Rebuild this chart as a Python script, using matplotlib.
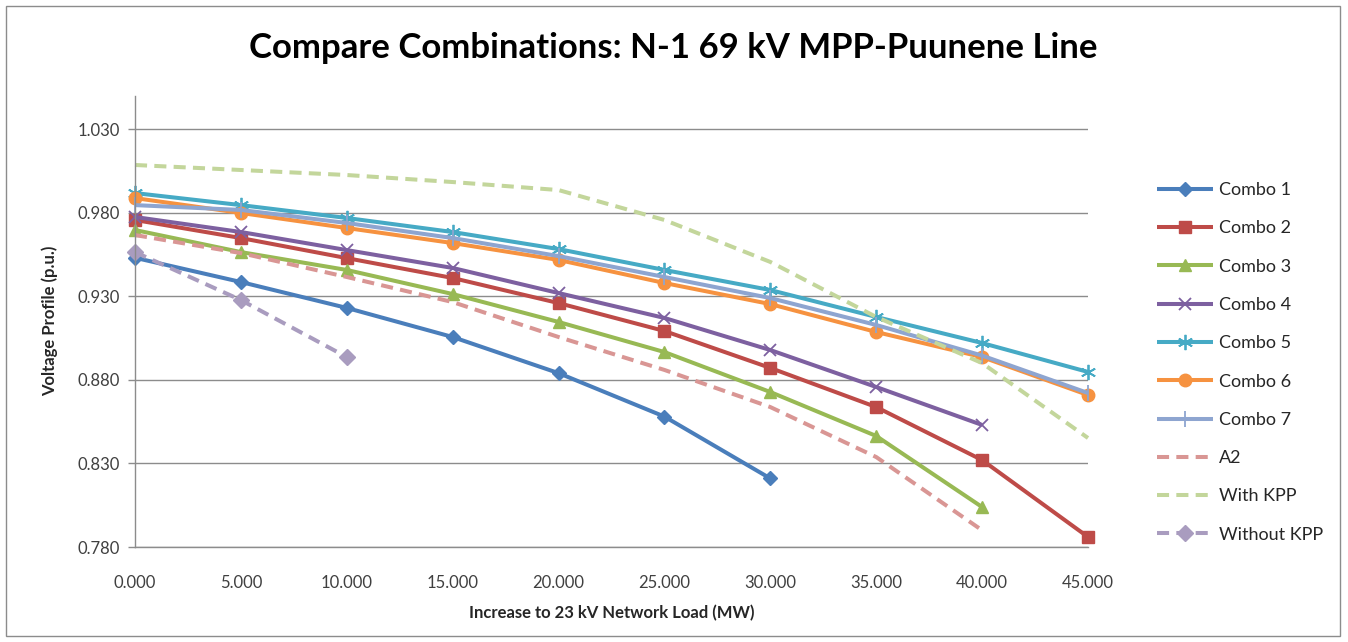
import matplotlib
matplotlib.use("Agg")
import matplotlib.pyplot as plt
from matplotlib.patches import Rectangle
from matplotlib.ticker import FormatStrFormatter, MultipleLocator

plt.rcParams['font.family'] = ['Lato', 'DejaVu Sans']

load_mw = [0, 5, 10, 15, 20, 25, 30, 35, 40, 45]

combo1 = [0.953, 0.9385, 0.923, 0.9056, 0.884, 0.858, 0.821]
combo2 = [0.9756, 0.9648, 0.9528, 0.9409, 0.9259, 0.9092, 0.8871, 0.8637, 0.832, 0.786]
combo3 = [0.9696, 0.9564, 0.9457, 0.9313, 0.9146, 0.8966, 0.8727, 0.8464, 0.8039]
combo4 = [0.9774, 0.9684, 0.9576, 0.9469, 0.9319, 0.917, 0.8978, 0.8757, 0.853]
combo5 = [0.9917, 0.9845, 0.9768, 0.9684, 0.9582, 0.9457, 0.9337, 0.9176, 0.902, 0.8847]
combo6 = [0.9887, 0.9798, 0.9708, 0.9618, 0.9517, 0.9379, 0.9253, 0.9086, 0.8936, 0.8709]
combo7 = [0.9845, 0.9816, 0.9738, 0.9648, 0.954, 0.9415, 0.9289, 0.9128, 0.8945, 0.8721]
a2 = [0.9666, 0.9558, 0.9415, 0.9265, 0.9056, 0.8859, 0.8637, 0.8338, 0.790]
with_kpp = [1.0085, 1.0055, 1.0025, 0.9983, 0.9935, 0.9756, 0.9505, 0.9176, 0.890, 0.8452]
without_kpp = [0.9564, 0.9277, 0.8936]

series_names = ["Combo 1", "Combo 2", "Combo 3", "Combo 4", "Combo 5",
                "Combo 6", "Combo 7", "A2", "With KPP", "Without KPP"]
series_values = [combo1, combo2, combo3, combo4, combo5, combo6, combo7,
                 a2, with_kpp, without_kpp]
colors = ["#4A7EBB", "#BE4B48", "#98B954", "#7D60A0", "#46AAC5",
          "#F69240", "#8EA5D0", "#D99694", "#C3D69B", "#A99CBF"]
markers = ["D", "s", "^", "x", (6, 2, 0), "o", "|", None, None, "D"]
msizes = [7, 9, 9, 9, 11, 9, 11, 0, 0, 8]
dashed = [False] * 7 + [True, True, True]

yticks = [0.780, 0.830, 0.880, 0.930, 0.980, 1.030]

fig = plt.figure(figsize=(13.48, 6.42), dpi=100)
ax = fig.add_axes([135 / 1348, 1 - 547 / 642, (1088 - 135) / 1348, (547 - 95.6) / 642])

for name, vals, c, m, ms, d in zip(series_names, series_values, colors, markers, msizes, dashed):
    xs = load_mw[:len(vals)]
    kw = dict(color=c, lw=2.9, label=name, solid_capstyle='butt', clip_on=False)
    if m is not None:
        kw.update(marker=m, markersize=ms, markerfacecolor=c, markeredgecolor=c)
        if m in ("x", "|") or isinstance(m, tuple):
            kw.update(markeredgewidth=1.3)
    if d:
        kw.update(dashes=(3.0, 1.8), dash_capstyle='butt')
    ax.plot(xs, vals, **kw)

ax.set_xlim(0, 45)
ax.set_ylim(0.78, 1.05)
ax.set_yticks(yticks)
ax.xaxis.set_major_locator(MultipleLocator(5))
ax.yaxis.set_major_formatter(FormatStrFormatter('%.3f'))
ax.xaxis.set_major_formatter(FormatStrFormatter('%.3f'))
ax.grid(axis='y', color='#8C8C8C', lw=1.0)
ax.set_axisbelow(True)
for s in ['top', 'right']:
    ax.spines[s].set_visible(False)
for s in ['left', 'bottom']:
    ax.spines[s].set_color('#8C8C8C')
    ax.spines[s].set_linewidth(1.0)
ax.tick_params(axis='both', colors='#8C8C8C', labelcolor='#404040', labelsize=12,
               length=5, width=1.0)
ax.tick_params(axis='x', length=0, pad=20)
ax.tick_params(axis='y', pad=6)

ax.set_xlabel("Increase to 23 kV Network Load (MW)", fontsize=12, fontweight='bold',
              color='#262626', labelpad=10)
ax.set_ylabel("Voltage Profile (p.u.)", fontsize=12, fontweight='bold',
              color='#262626', labelpad=14)

fig.text(673 / 1348, 1 - 48 / 642, "Compare Combinations: N-1 69 kV MPP-Puunene Line",
         ha='center', va='center', fontsize=25, fontweight='bold', color='black')

leg = ax.legend(loc='upper left', bbox_to_anchor=(1148 / 1348, 1 - 173 / 642),
                bbox_transform=fig.transFigure, frameon=False, fontsize=13,
                handlelength=3.1, handletextpad=0.35, labelspacing=1.235,
                numpoints=1, borderpad=0)
for t in leg.get_texts():
    t.set_color('#262626')

fig.add_artist(Rectangle((6 / 1348, 6 / 642), 1334 / 1348, 630 / 642,
                         transform=fig.transFigure, fill=False,
                         edgecolor='#8C8C8C', lw=1.0))

fig.savefig("out.png", dpi=100, facecolor='white')
